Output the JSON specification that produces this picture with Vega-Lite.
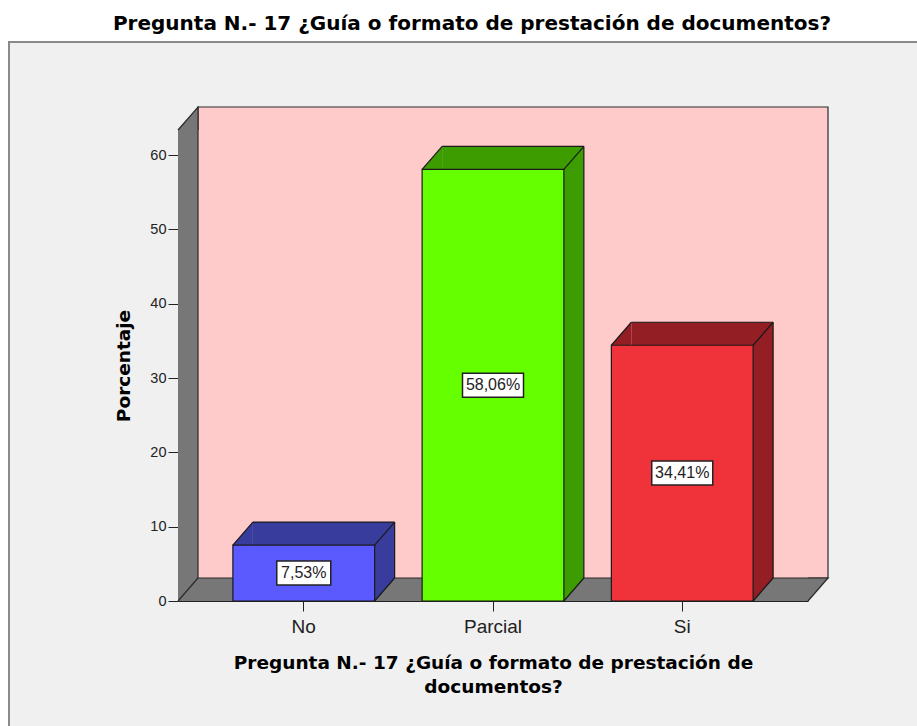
{
  "$schema": "https://vega.github.io/schema/vega-lite/v6.json",
  "width": 910,
  "height": 686,
  "autosize": {"type": "none"},
  "padding": {"left": 9, "top": 42, "right": 0, "bottom": 0},
  "background": "#ffffff",
  "config": {"view": {"fill": "#f0f0f0", "stroke": "#8a8a8a", "strokeWidth": 2}},
  "title": {
    "text": "Pregunta N.- 17 ¿Guía o formato de prestación de documentos?",
    "font": "DejaVu Sans", "fontSize": 20, "fontWeight": "bold", "color": "#000000",
    "anchor": "middle", "dx": 8, "offset": 8
  },
  "data": {"values": [
    {"cat": "No", "pct": 7.53, "label": "7,53%"},
    {"cat": "Parcial", "pct": 58.06, "label": "58,06%"},
    {"cat": "Si", "pct": 34.41, "label": "34,41%"}
  ]},
  "resolve": {"scale": {"x": "independent", "y": "independent"}},
  "layer": [
    {
      "data": {"values": [{}]},
      "layer": [
        {
          "mark": {"type": "rect", "fill": "#777777", "x2Offset": 20},
          "encoding": {
            "x": {"datum": 0, "type": "quantitative", "scale": {"domain": [0, 1], "range": [169, 799], "nice": false, "zero": false}, "axis": null},
            "x2": {"datum": 0},
            "y": {"datum": 0, "type": "quantitative", "scale": {"domain": [0, 63.37], "range": [559, 88], "nice": false, "zero": false},
              "axis": {"orient": "left", "offset": -169, "values": [0, 10, 20, 30, 40, 50, 60], "grid": false,
                "title": "Porcentaje", "titleFont": "DejaVu Sans", "titleFontSize": 18.5, "titleFontWeight": "bold", "titleColor": "#000000", "titlePadding": 16,
                "labelFont": "Liberation Sans", "labelFontSize": 14.5, "labelColor": "#222222", "labelPadding": 2,
                "tickSize": 10, "tickColor": "#222222", "domainColor": "#222222"}},
            "y2": {"datum": 63.37}
          }
        },
        {
          "mark": {"type": "rect", "fill": "#777777", "yOffset": -23},
          "encoding": {
            "x": {"datum": 0, "type": "quantitative"},
            "x2": {"datum": 1},
            "y": {"datum": 0, "type": "quantitative"},
            "y2": {"datum": 0}
          }
        },
        {
          "mark": {"type": "rect", "fill": "#ffcaca", "stroke": "#2a2a2a", "strokeWidth": 1.2, "xOffset": 20, "x2Offset": 20, "yOffset": -23, "y2Offset": -23},
          "encoding": {
            "x": {"datum": 0, "type": "quantitative"},
            "x2": {"datum": 1},
            "y": {"datum": 0, "type": "quantitative"},
            "y2": {"datum": 63.37}
          }
        },
        {
          "mark": {"type": "point", "shape": "M0,0 L20,-23 L20,0", "size": 4, "filled": true, "fill": "#777777", "stroke": "#2a2a2a", "strokeWidth": 1.2, "opacity": 1},
          "encoding": {
            "x": {"datum": 0, "type": "quantitative"},
            "y": {"datum": 63.37, "type": "quantitative"}
          }
        },
        {
          "mark": {"type": "point", "shape": "M0,-23 L20,-23 L0,0", "size": 4, "filled": true, "fill": "#777777", "stroke": "#2a2a2a", "strokeWidth": 1.2, "opacity": 1},
          "encoding": {
            "x": {"datum": 1, "type": "quantitative"},
            "y": {"datum": 0, "type": "quantitative"}
          }
        },
        {
          "mark": {"type": "point", "shape": "M0,0 L20,-23", "size": 4, "filled": false, "stroke": "#2a2a2a", "strokeWidth": 1.2, "opacity": 1},
          "encoding": {
            "x": {"datum": 0, "type": "quantitative"},
            "y": {"datum": 0, "type": "quantitative"}
          }
        }
      ]
    },
    {
      "encoding": {
        "x": {"field": "cat", "type": "nominal", "sort": ["No", "Parcial", "Si"],
          "scale": {"type": "band", "range": [169, 799], "paddingInner": 0.251, "paddingOuter": 0.29},
          "axis": {"orient": "bottom", "offset": -127, "labelAngle": 0, "grid": false,
            "title": ["Pregunta N.- 17 ¿Guía o formato de prestación de", "documentos?"],
            "titleFont": "DejaVu Sans", "titleFontSize": 18.5, "titleFontWeight": "bold", "titleColor": "#000000", "titleLineHeight": 24, "titlePadding": 17,
            "labelFont": "Liberation Sans", "labelFontSize": 19, "labelColor": "#222222", "labelPadding": 6,
            "tickSize": 10, "tickColor": "#222222", "domainColor": "#222222"}},
        "y": {"field": "pct", "type": "quantitative", "scale": {"domain": [0, 63.37], "range": [559, 88], "nice": false, "zero": false}, "axis": null}
      },
      "layer": [
        {
          "mark": {"type": "bar", "xOffset": 20, "yOffset": -23, "y2Offset": -23},
          "encoding": {
            "y2": {"datum": 0},
            "fill": {"field": "cat", "type": "nominal", "scale": {"domain": ["No", "Parcial", "Si"], "range": ["#383c9c", "#3c9c00", "#931f24"]}, "legend": null}
          }
        },
        {
          "mark": {"type": "point", "shape": "M0,0 L20,-23 L20,0 Z", "size": 4, "filled": true, "opacity": 1},
          "encoding": {
            "x": {"field": "cat", "type": "nominal", "sort": ["No", "Parcial", "Si"], "bandPosition": 0},
            "fill": {"field": "cat", "type": "nominal", "legend": null}
          }
        },
        {
          "mark": {"type": "point", "shape": "M0,0 L20,-23 L0,-23 Z", "size": 4, "filled": true, "opacity": 1},
          "encoding": {
            "x": {"field": "cat", "type": "nominal", "sort": ["No", "Parcial", "Si"], "bandPosition": 1},
            "y": {"datum": 0, "type": "quantitative"},
            "fill": {"field": "cat", "type": "nominal", "legend": null}
          }
        },
        {
          "mark": {"type": "bar", "stroke": "#1a1a1a", "strokeWidth": 1.2},
          "encoding": {
            "y2": {"datum": 0},
            "color": {"field": "cat", "type": "nominal", "scale": {"domain": ["No", "Parcial", "Si"], "range": ["#5a5aff", "#66ff00", "#f0323b"]}, "legend": null}
          }
        },
        {
          "mark": {"type": "rule", "color": "#1a1a1a", "strokeWidth": 1.2, "xOffset": 20, "x2Offset": 20, "yOffset": -23},
          "encoding": {
            "x": {"field": "cat", "type": "nominal", "sort": ["No", "Parcial", "Si"], "bandPosition": 0},
            "x2": {"field": "cat", "bandPosition": 1}
          }
        },
        {
          "mark": {"type": "rule", "color": "#1a1a1a", "strokeWidth": 1.2, "xOffset": 20, "yOffset": -23, "y2Offset": -23},
          "encoding": {
            "x": {"field": "cat", "type": "nominal", "sort": ["No", "Parcial", "Si"], "bandPosition": 1},
            "y2": {"datum": 0}
          }
        },
        {
          "mark": {"type": "point", "shape": "M0,0 L20,-23", "size": 4, "filled": false, "stroke": "#1a1a1a", "strokeWidth": 1.2, "opacity": 1},
          "encoding": {
            "x": {"field": "cat", "type": "nominal", "sort": ["No", "Parcial", "Si"], "bandPosition": 0}
          }
        },
        {
          "mark": {"type": "point", "shape": "M0,0 L20,-23", "size": 4, "filled": false, "stroke": "#1a1a1a", "strokeWidth": 1.2, "opacity": 1},
          "encoding": {
            "x": {"field": "cat", "type": "nominal", "sort": ["No", "Parcial", "Si"], "bandPosition": 1}
          }
        },
        {
          "mark": {"type": "point", "shape": "M0,0 L20,-23", "size": 4, "filled": false, "stroke": "#1a1a1a", "strokeWidth": 1.2, "opacity": 1},
          "encoding": {
            "x": {"field": "cat", "type": "nominal", "sort": ["No", "Parcial", "Si"], "bandPosition": 1},
            "y": {"datum": 0, "type": "quantitative"}
          }
        }
      ]
    },
    {
      "encoding": {
        "x": {"field": "cat", "type": "nominal", "sort": ["No", "Parcial", "Si"],
          "scale": {"type": "band", "range": [169, 799], "paddingInner": 0.251, "paddingOuter": 0.29}, "axis": null},
        "y": {"field": "pct", "type": "quantitative", "scale": {"domain": [0, 126.74], "range": [559, 88], "nice": false, "zero": false}, "axis": null}
      },
      "layer": [
        {
          "mark": {"type": "point", "size": 4, "filled": true, "fill": "#ffffff", "stroke": "#222222", "strokeWidth": 1.5, "opacity": 1},
          "encoding": {
            "shape": {"condition": {"test": "datum.pct < 10", "value": "M-27,-12 L27,-12 L27,12 L-27,12 Z"}, "value": "M-30.5,-12 L30.5,-12 L30.5,12 L-30.5,12 Z"}
          }
        },
        {
          "mark": {"type": "text", "font": "Liberation Sans", "fontSize": 16, "color": "#222222", "align": "center", "baseline": "middle"},
          "encoding": {"text": {"field": "label"}}
        }
      ]
    }
  ]
}
